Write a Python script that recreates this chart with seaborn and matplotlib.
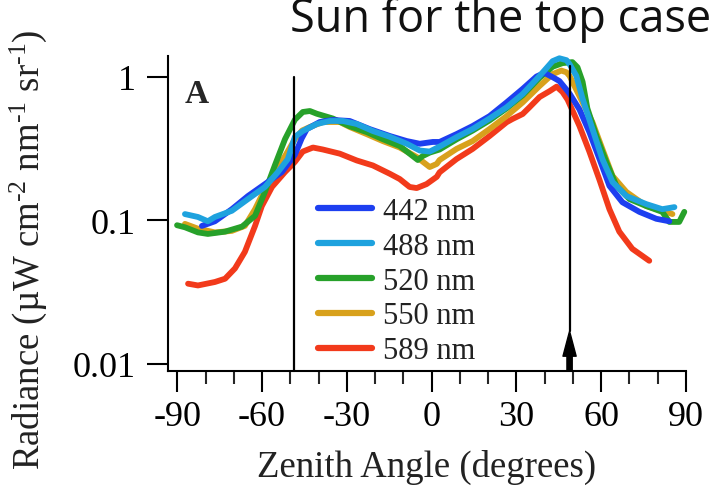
import matplotlib
matplotlib.use("Agg")
import matplotlib.pyplot as plt
from matplotlib.ticker import FixedLocator, MultipleLocator, NullLocator
from matplotlib.lines import Line2D
import pandas as pd
import seaborn as sns

# Sky radiance versus zenith angle for five wavelengths
wavelengths = ["442 nm", "488 nm", "520 nm", "550 nm", "589 nm"]
colors = ["#1d3ff0", "#1ea2de", "#27a12a", "#d8a11c", "#f23a1b"]

angle_442 = [-81.3, -76.7, -70.7, -65.0, -59.0, -53.0, -48.4, -46.0, -44.2, -39.6, -35.0,
             -29.0, -21.9, -14.8, -8.8, -4.2, 0.4, 2.8, 8.8, 14.5, 20.5, 26.5, 32.2, 37.1,
             39.9, 42.8, 45.2, 47.7, 48.8, 52.3, 55.8, 59.4, 62.9, 67.5, 73.5, 79.5, 84.1]
rad_442 = [0.091, 0.098, 0.119, 0.147, 0.178, 0.216, 0.285, 0.37, 0.43, 0.482, 0.498,
           0.49, 0.43, 0.385, 0.355, 0.34, 0.35, 0.35, 0.397, 0.452, 0.53, 0.66, 0.82, 1.0,
           1.06, 0.99, 0.93, 0.81, 0.76, 0.59, 0.41, 0.266, 0.173, 0.133, 0.114, 0.102, 0.098]

angle_488 = [-87.3, -82.7, -79.2, -76.7, -70.7, -65.0, -59.0, -54.4, -50.9, -48.4, -45.6,
             -40.6, -36.0, -31.4, -26.5, -20.8, -14.8, -8.8, -4.2, -0.7, 2.8, 8.8, 14.5,
             20.5, 26.5, 32.2, 38.2, 42.8, 45.2, 47.7, 48.8, 51.2, 53.4, 56.9, 60.4, 64.0,
             68.9, 76.0, 81.6, 85.9]
rad_488 = [0.110, 0.105, 0.098, 0.105, 0.116, 0.14, 0.17, 0.216, 0.266, 0.38, 0.417,
           0.467, 0.49, 0.49, 0.467, 0.417, 0.38, 0.34, 0.305, 0.30, 0.325, 0.378, 0.431,
           0.51, 0.61, 0.755, 1.01, 1.28, 1.34, 1.30, 1.22, 1.01, 0.70, 0.431, 0.266, 0.184,
           0.147, 0.129, 0.119, 0.123]

angle_520 = [-90.1, -87.3, -82.7, -79.2, -73.1, -67.1, -62.5, -59.0, -55.5, -51.9, -48.4,
             -45.6, -43.1, -40.6, -35.0, -29.0, -23.0, -17.3, -11.3, -6.7, -4.9, -3.2, -0.7,
             2.8, 8.8, 14.5, 20.5, 26.5, 32.2, 38.2, 42.8, 46.3, 49.8, 51.6, 53.4, 55.1,
             58.3, 61.8, 65.4, 70.0, 76.0, 81.6, 84.1, 87.6, 89.4]
rad_520 = [0.092, 0.089, 0.082, 0.080, 0.083, 0.090, 0.107, 0.157, 0.24, 0.366, 0.50,
           0.566, 0.575, 0.55, 0.51, 0.45, 0.41, 0.366, 0.328, 0.279, 0.262, 0.279, 0.295,
           0.31, 0.365, 0.42, 0.495, 0.60, 0.74, 0.98, 1.17, 1.24, 1.26, 1.16, 0.92, 0.60,
           0.385, 0.254, 0.173, 0.14, 0.125, 0.114, 0.097, 0.097, 0.114]

angle_550 = [-87.3, -82.7, -76.7, -70.7, -66.1, -62.5, -59.0, -55.5, -51.9, -48.4, -45.9,
             -43.1, -38.5, -32.5, -29.0, -23.0, -17.3, -11.3, -5.3, -0.7, 1.8, 2.8, 8.8,
             14.5, 20.5, 26.5, 32.2, 38.2, 42.8, 45.9, 47.7, 48.8, 52.3, 56.9, 60.4, 64.0,
             68.9, 76.0, 83.0, 85.2]
rad_550 = [0.094, 0.087, 0.082, 0.084, 0.091, 0.119, 0.164, 0.216, 0.279, 0.366, 0.42,
           0.445, 0.482, 0.482, 0.445, 0.397, 0.355, 0.32, 0.275, 0.234, 0.246, 0.262, 0.313,
           0.355, 0.431, 0.53, 0.66, 0.86, 1.04, 1.10, 1.07, 1.01, 0.73, 0.48, 0.313, 0.203,
           0.157, 0.125, 0.114, 0.11]

angle_589 = [-86.2, -82.7, -76.7, -73.1, -69.6, -66.1, -62.5, -60.1, -56.5, -51.9, -48.4,
             -45.6, -42.0, -38.5, -32.5, -26.5, -20.8, -14.8, -11.3, -7.8, -5.3, -1.8, 1.8,
             2.8, 8.8, 14.5, 20.5, 26.5, 28.6, 32.2, 34.6, 38.2, 41.7, 44.2, 46.3, 48.1,
             52.3, 55.8, 59.4, 62.9, 66.4, 71.0, 77.0]
rad_589 = [0.036, 0.035, 0.037, 0.039, 0.046, 0.060, 0.091, 0.125, 0.17, 0.216, 0.254,
           0.30, 0.32, 0.31, 0.29, 0.26, 0.24, 0.21, 0.193, 0.17, 0.167, 0.178, 0.20,
           0.215, 0.266, 0.313, 0.385, 0.48, 0.506, 0.548, 0.61, 0.72, 0.79, 0.85, 0.78,
           0.69, 0.452, 0.30, 0.19, 0.119, 0.083, 0.063, 0.052]

x_ticks = [-90, -60, -30, 0, 30, 60, 90]
y_ticks = [0.01, 0.1, 1]
y_tick_labels = ["0.01", "0.1", "1"]

# Boundaries marked on the plot
left_marker = -48.8
sun_angle = 48.8

angles = [angle_442, angle_488, angle_520, angle_550, angle_589]
radiances = [rad_442, rad_488, rad_520, rad_550, rad_589]
frames = [pd.DataFrame({"angle": a, "radiance": r, "band": w})
          for a, r, w in zip(angles, radiances, wavelengths)]

sns.set_theme(style="ticks")
plt.rcParams["font.family"] = ["Liberation Serif", "DejaVu Serif"]
plt.rcParams["mathtext.fontset"] = "custom"
plt.rcParams["mathtext.rm"] = "Liberation Serif"
plt.rcParams["mathtext.it"] = "Liberation Serif:italic"
plt.rcParams["mathtext.bf"] = "Liberation Serif:bold"

fig = plt.figure(figsize=(7.11, 4.89), dpi=100)
ax = fig.add_axes([168 / 711, 1 - 372 / 489, 518 / 711, 315 / 489])

draw_z = {"589 nm": 2, "550 nm": 3, "520 nm": 4, "442 nm": 5, "488 nm": 6}
for df, col in zip(frames, colors):
    band = df["band"].iloc[0]
    sns.lineplot(data=df, x="angle", y="radiance", color=col, lw=4.2, sort=False,
                 estimator=None, ax=ax, zorder=draw_z[band], legend=False)
for ln in ax.get_lines():
    ln.set_clip_on(False)
    ln.set_solid_capstyle("round")
    ln.set_solid_joinstyle("round")

ax.set_yscale("log")
ax.set_xlim(-93.3, 90)
ax.set_ylim(0.00887, 1.39)

ax.xaxis.set_major_locator(FixedLocator(x_ticks))
ax.xaxis.set_minor_locator(MultipleLocator(10))
ax.set_xticklabels([str(t) for t in x_ticks])
ax.yaxis.set_major_locator(FixedLocator(y_ticks))
ax.yaxis.set_minor_locator(NullLocator())
ax.set_yticklabels(y_tick_labels)

ax.tick_params(axis="both", which="major", direction="out", length=15, width=1.5,
               labelsize=26, colors="black", pad=6)
ax.tick_params(axis="x", which="minor", direction="out", length=9, width=1.5)
ax.tick_params(axis="y", which="major", pad=8)

for side in ["top", "right"]:
    ax.spines[side].set_visible(False)
for side in ["left", "bottom"]:
    ax.spines[side].set_linewidth(1.5)
    ax.spines[side].set_color("black")

ax.set_xlabel("Zenith Angle (degrees)", fontsize=26.5, labelpad=11, color="#222222")
ax.set_ylabel("")
hy = "\u2010"
fig.text(28 / 711, 1 - 250 / 489,
         f"Radiance (\u00b5W cm$^{{{hy}2}}$ nm$^{{{hy}1}}$ sr$^{{{hy}1}}$)",
         rotation=90, ha="center", va="center", fontsize=26.5, color="#222222")

# Vertical markers and the sun-direction arrow
ax.plot([left_marker, left_marker], [0.99, 0.00887], color="black", lw=1.6, zorder=7,
        clip_on=False)
tip = 0.0168
ax.plot([sun_angle, sun_angle], [1.18, tip], color="black", lw=1.6, zorder=7, clip_on=False)
ax.annotate("", xy=(sun_angle, tip), xytext=(sun_angle, 0.00887),
            arrowprops=dict(arrowstyle="simple,head_length=1.8,head_width=0.95,tail_width=0.38",
                            mutation_scale=10, color="black", shrinkA=0, shrinkB=0),
            zorder=8)

ax.text(0.033, 0.855, "A", transform=ax.transAxes, fontsize=24, fontweight="bold",
        ha="left", va="baseline")

handles = [Line2D([0], [0], color=c, lw=4.5) for c in colors]
leg = ax.legend(handles, wavelengths, loc="upper left",
                bbox_to_anchor=(318 / 711, 1 - 198 / 489), bbox_transform=fig.transFigure,
                frameon=False, fontsize=22, handlelength=1.78, handletextpad=0.36,
                labelspacing=0.19, borderpad=0, borderaxespad=0)
for t in leg.get_texts():
    t.set_color("#222222")

fig.text(290 / 711, 1 - 32 / 489, "Sun for the top case", fontsize=32.5,
         family=["Open Sans", "DejaVu Sans"], color="#111111", ha="left", va="baseline")

fig.savefig("out.png", dpi=100)
